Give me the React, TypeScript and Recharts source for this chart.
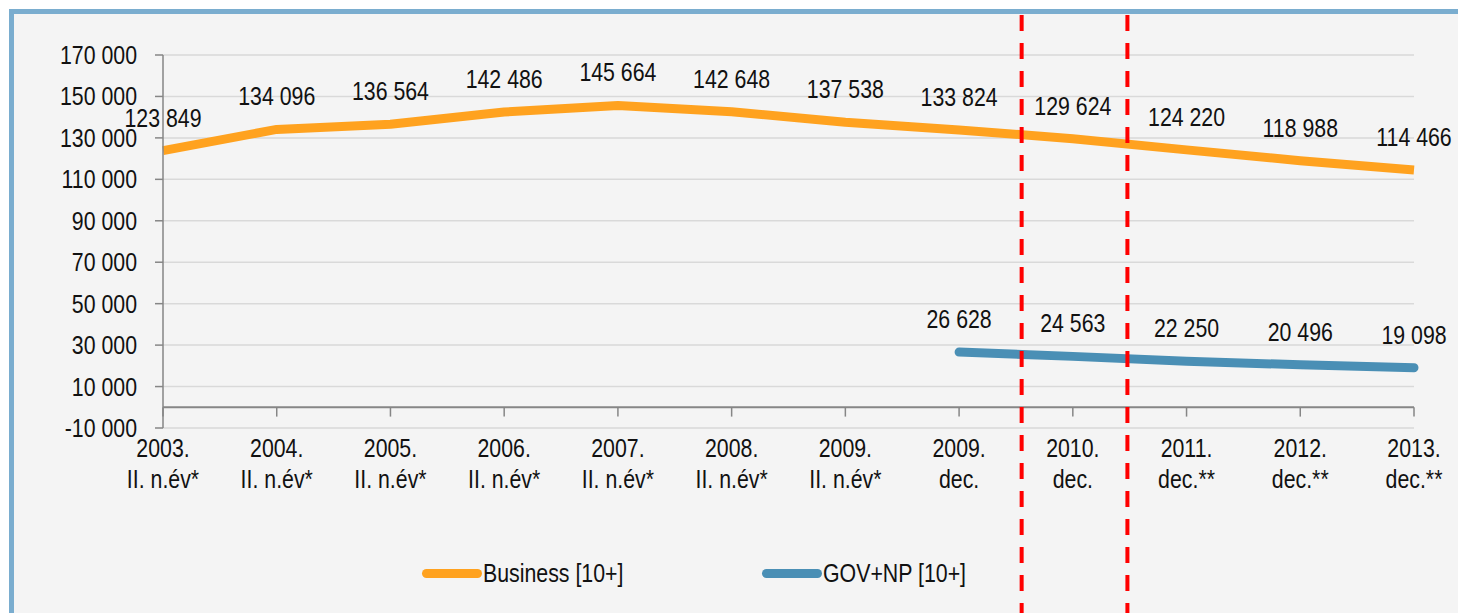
import React from "react";
import { LineChart, Line, XAxis, YAxis, CartesianGrid, ReferenceLine, LabelList, Legend } from "recharts";

const categories = [
  "2003.\nII. n.év*",
  "2004.\nII. n.év*",
  "2005.\nII. n.év*",
  "2006.\nII. n.év*",
  "2007.\nII. n.év*",
  "2008.\nII. n.év*",
  "2009.\nII. n.év*",
  "2009.\ndec.",
  "2010.\ndec.",
  "2011.\ndec.**",
  "2012.\ndec.**",
  "2013.\ndec.**",
];
const businessValues = [123849, 134096, 136564, 142486, 145664, 142648, 137538, 133824, 129624, 124220, 118988, 114466];
const govValues: (number | null)[] = [null, null, null, null, null, null, null, 26628, 24563, 22250, 20496, 19098];
const yTicks = [-10000, 10000, 30000, 50000, 70000, 90000, 110000, 130000, 150000, 170000];
const dividerPositions = [7.55, 8.48];
const seriesNames = { business: "Business [10+]", gov: "GOV+NP [10+]" };

const data = categories.map((c, i) => ({ idx: i, cat: c, business: businessValues[i], gov: govValues[i] }));
const xTicks = categories.map((_, i) => i);

const FONT = "'Liberation Sans', Arial, sans-serif";
const FS = 26;
const NARROW = 0.82;
const ORANGE = "#ffa21f";
const BLUE = "#4a8fb5";
const AXIS = "#868686";
const TEXT = "#111";

const fmt = (v: number) => {
  const s = Math.abs(v).toString().replace(/\B(?=(\d{3})+(?!\d))/g, " ");
  return (v < 0 ? "-" : "") + s;
};

const NarrowText = ({ x, y, anchor, children }: any) => (
  <text
    transform={`translate(${x},${y}) scale(${NARROW},1)`}
    x={0}
    y={0}
    textAnchor={anchor}
    fontFamily={FONT}
    fontSize={FS}
    fill={TEXT}
  >
    {children}
  </text>
);

const XTick = (props: any) => {
  const { x, y, payload } = props;
  const [a, b] = categories[payload.value].split("\n");
  return (
    <g>
      <NarrowText x={x} y={y + 29} anchor="middle">{a}</NarrowText>
      <NarrowText x={x} y={y + 60} anchor="middle">{b}</NarrowText>
    </g>
  );
};

const YTick = (props: any) => {
  const { x, y, payload } = props;
  return <NarrowText x={x} y={y + 9} anchor="end">{fmt(payload.value)}</NarrowText>;
};

const DataLabel = (props: any) => {
  const { x, y, value } = props;
  if (value == null || x == null || y == null) return null;
  return <NarrowText x={x} y={y - 24} anchor="middle">{fmt(value)}</NarrowText>;
};

const DividerShape = (props: any) => (
  <line x1={props.x1} x2={props.x2} y1={15} y2={613} stroke="#ff0000" strokeWidth={4} strokeDasharray="16 12" />
);

const legendText: React.CSSProperties = {
  display: "inline-block",
  transform: `scaleX(${NARROW})`,
  transformOrigin: "left center",
  whiteSpace: "nowrap",
};

const LegendContent = () => (
  <div style={{ display: "flex", alignItems: "center", height: 30, paddingLeft: 422, fontFamily: FONT, fontSize: FS, color: TEXT, boxSizing: "border-box" }}>
    <div style={{ display: "flex", alignItems: "center", width: 340 }}>
      <span style={{ display: "inline-block", width: 60, height: 9, borderRadius: 5, background: ORANGE, marginRight: 1 }} />
      <span style={legendText}>{seriesNames.business}</span>
    </div>
    <div style={{ display: "flex", alignItems: "center" }}>
      <span style={{ display: "inline-block", width: 60, height: 9, borderRadius: 5, background: BLUE, marginRight: 1 }} />
      <span style={legendText}>{seriesNames.gov}</span>
    </div>
  </div>
);

export default function App() {
  return (
    <div style={{ position: "absolute", left: 0, top: 0, width: 1458, height: 613, background: "#fff", overflow: "hidden" }}>
      <div style={{ position: "absolute", left: 9, top: 9, right: -20, bottom: -20, borderTop: "5px solid #7aadcf", borderLeft: "5px solid #7aadcf", background: "#f4f4f4" }} />
      <div style={{ position: "absolute", left: 0, top: 0 }}>
        <LineChart width={1458} height={613} data={data} margin={{ top: 55, right: 44, left: 0, bottom: 25 }}>
          <CartesianGrid vertical={false} stroke="#d9d9d9" strokeWidth={1.5} />
          <XAxis
            dataKey="idx"
            type="number"
            domain={[0, 11]}
            ticks={xTicks}
            interval={0}
            axisLine={false}
            tickLine={false}
            tickSize={0}
            tickMargin={0}
            height={130}
            tick={<XTick />}
          />
          <YAxis
            type="number"
            domain={[-10000, 170000]}
            ticks={yTicks}
            interval={0}
            width={163}
            tickSize={8}
            tickMargin={18}
            axisLine={{ stroke: AXIS, strokeWidth: 1.5 }}
            tickLine={{ stroke: AXIS, strokeWidth: 1.5 }}
            tick={<YTick />}
          />
          <ReferenceLine y={0} stroke={AXIS} strokeWidth={2} />
          {xTicks.map((i) => (
            <ReferenceLine key={"t" + i} segment={[{ x: i, y: 0 }, { x: i, y: -4500 }]} stroke={AXIS} strokeWidth={1.5} />
          ))}
          <Legend verticalAlign="bottom" wrapperStyle={{ left: 0, width: 1458 }} content={<LegendContent />} />
          <Line
            type="linear"
            dataKey="business"
            name={seriesNames.business}
            stroke={ORANGE}
            strokeWidth={9}
            strokeLinejoin="round"
            strokeLinecap="butt"
            dot={false}
            activeDot={false}
            isAnimationActive={false}
          >
            <LabelList dataKey="business" content={<DataLabel />} />
          </Line>
          <Line
            type="linear"
            dataKey="gov"
            name={seriesNames.gov}
            stroke={BLUE}
            strokeWidth={9}
            strokeLinejoin="round"
            strokeLinecap="round"
            dot={false}
            activeDot={false}
            connectNulls={false}
            isAnimationActive={false}
          >
            <LabelList dataKey="gov" content={<DataLabel />} />
          </Line>
          {dividerPositions.map((p) => (
            <ReferenceLine key={"d" + p} x={p} ifOverflow="visible" shape={<DividerShape />} />
          ))}
        </LineChart>
      </div>
    </div>
  );
}
